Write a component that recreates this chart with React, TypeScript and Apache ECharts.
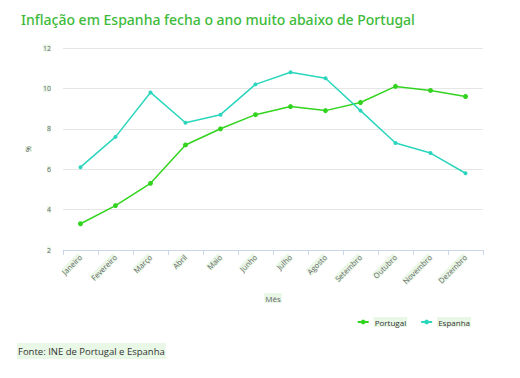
import React, { useEffect, useRef } from "react";
import * as echarts from "echarts";

const months = ["Janeiro", "Fevereiro", "Março", "Abril", "Maio", "Junho", "Julho", "Agosto", "Setembro", "Outubro", "Novembro", "Dezembro"];
const portugal = [3.3, 4.2, 5.3, 7.2, 8.0, 8.7, 9.1, 8.9, 9.3, 10.1, 9.9, 9.6];
const espanha = [6.1, 7.6, 9.8, 8.3, 8.7, 10.2, 10.8, 10.5, 8.9, 7.3, 6.8, 5.8];
const yTicks = { min: 2, max: 12, interval: 2 };

const HL = "#e8f7e6";
const FONT = "'Open Sans', 'Noto Sans', sans-serif";

export default function App() {
  const ref = useRef<HTMLDivElement>(null);
  useEffect(() => {
    if (!ref.current) return;
    const chart = echarts.init(ref.current, null, { renderer: "svg" });
    chart.setOption({
      animation: false,
      backgroundColor: "#ffffff",
      textStyle: { fontFamily: FONT },
      title: {
        text: "Inflação em Espanha fecha o ano muito abaixo de Portugal",
        left: 16,
        top: 7,
        textStyle: {
          color: "#3dba3a",
          fontSize: 14,
          fontWeight: 500,
          fontFamily: "'Noto Sans', sans-serif",
          backgroundColor: HL,
          padding: [2, 2, 2, 2],
        },
      },
      legend: {
        right: 44,
        top: 312,
        itemWidth: 11,
        itemHeight: 6,
        itemGap: 13,
        textStyle: { fontSize: 8, color: "#333", backgroundColor: HL, padding: [1, 1] },
        data: ["Portugal", "Espanha"],
      },
      grid: { left: 63, right: 37, top: 48, bottom: 128 },
      xAxis: {
        type: "category",
        data: months,
        boundaryGap: true,
        name: "Mês",
        nameLocation: "middle",
        nameGap: 43,
        nameTextStyle: { fontSize: 8, color: "#666", backgroundColor: HL, padding: [1, 1] },
        axisLine: { lineStyle: { color: "#ccd6eb" } },
        axisTick: { show: true, length: 5, lineStyle: { color: "#ccd6eb" } },
        axisLabel: {
          rotate: 45,
          fontSize: 7.5,
          color: "#666",
          margin: 6,
          backgroundColor: HL,
          interval: 0,
        },
      },
      yAxis: {
        type: "value",
        min: yTicks.min,
        max: yTicks.max,
        interval: yTicks.interval,
        name: "%",
        nameLocation: "middle",
        nameGap: 28,
        nameRotate: 90,
        nameTextStyle: { fontSize: 7, color: "#666", backgroundColor: HL },
        axisLine: { show: false },
        axisTick: { show: false },
        axisLabel: { fontSize: 7, color: "#666", margin: 12, backgroundColor: HL },
        splitLine: { lineStyle: { color: "#e6e6e6" } },
      },
      series: [
        {
          name: "Portugal",
          type: "line",
          data: portugal,
          symbol: "circle",
          symbolSize: 5,
          itemStyle: { color: "#33d41f" },
          lineStyle: { color: "#33d41f", width: 1.5 },
        },
        {
          name: "Espanha",
          type: "line",
          data: espanha,
          symbol: "circle",
          symbolSize: 4,
          itemStyle: { color: "#2bd6bd" },
          lineStyle: { color: "#2bd6bd", width: 1.5 },
        },
      ],
      graphic: [
        {
          type: "text",
          left: 17,
          top: 343,
          style: {
            text: "Fonte: INE de Portugal e Espanha",
            fontSize: 9.5,
            fill: "#333",
            fontFamily: FONT,
            backgroundColor: HL,
            padding: [3, 1],
          },
        },
      ],
    });
    return () => chart.dispose();
  }, []);
  return (
    <div
      ref={ref}
      style={{ position: "fixed", left: 0, top: 0, width: 520, height: 378 }}
    />
  );
}
